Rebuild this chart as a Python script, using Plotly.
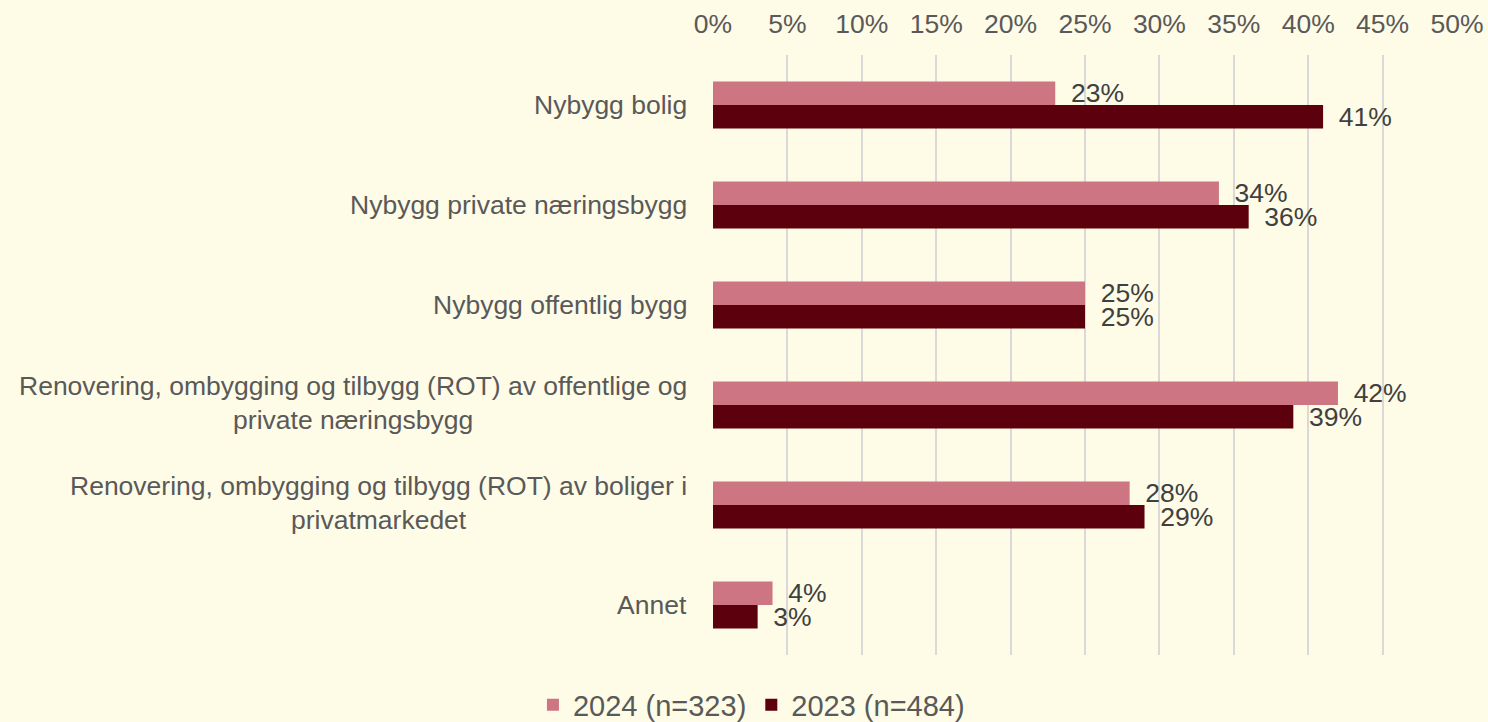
import plotly.graph_objects as go

categories = [
    "Nybygg bolig",
    "Nybygg private næringsbygg",
    "Nybygg offentlig bygg",
    "Renovering, ombygging og tilbygg (ROT) av offentlige og<br>private næringsbygg",
    "Renovering, ombygging og tilbygg (ROT) av boliger i<br>privatmarkedet",
    "Annet",
]
values_2024 = [23, 34, 25, 42, 28, 4]
values_2023 = [41, 36, 25, 39, 29, 3]
series_names = ["2024 (n=323)", "2023 (n=484)"]
tick_vals = [0, 5, 10, 15, 20, 25, 30, 35, 40, 45, 50]
tick_text = [f"{v}%" for v in tick_vals]

FONT = "Liberation Sans, Arial, sans-serif"
BG = "#FEFBE6"
C2024 = "#CD7582"
C2023 = "#5C000D"
FS = 26.5

fig = go.Figure()
for name, vals, col in [(series_names[0], values_2024, C2024), (series_names[1], values_2023, C2023)]:
    fig.add_trace(go.Bar(
        y=categories, x=vals, name=name, orientation="h",
        marker=dict(color=col, line=dict(width=0)),
        text=[f"{v}%" for v in vals],
        texttemplate=" \u2009%{text}",
        textposition="outside",
        constraintext="none",
        cliponaxis=False,
        textfont=dict(family=FONT, size=FS, color="#404040"),
    ))

for c in categories:
    multi = "<br>" in c
    fig.add_annotation(
        x=0, xref="paper", y=c, yref="y", text=c, showarrow=False,
        xanchor="right", yanchor="middle", align="center", xshift=-24,
        yshift=2 if multi else 0,
        font=dict(family=FONT, size=FS, color="#595959"),
    )

fig.update_layout(
    width=1488, height=722,
    margin=dict(l=713, r=31, t=55, b=67, autoexpand=False),
    paper_bgcolor=BG, plot_bgcolor=BG,
    barmode="group", bargap=0.53, bargroupgap=0,
    font=dict(family=FONT, size=FS, color="#595959"),
    showlegend=True,
    legend=dict(orientation="h", x=-0.242, xanchor="left", y=-0.083, yanchor="middle",
                font=dict(family=FONT, size=29, color="#595959"),
                bgcolor="rgba(0,0,0,0)", traceorder="normal", itemwidth=30),
    xaxis=dict(side="top", range=[0, 50], tickvals=tick_vals, ticktext=tick_text,
               showgrid=True, gridcolor="#D9D9D9", gridwidth=2, zeroline=False,
               showline=False, ticks="", ticklabelstandoff=16,
               tickfont=dict(family=FONT, size=FS, color="#595959"), fixedrange=True),
    yaxis=dict(autorange="reversed", showticklabels=False, showgrid=False,
               zeroline=False, showline=False, ticks="", fixedrange=True),
)

fig.write_html("out.html", config={"displayModeBar": False},
               post_script="document.body.style.margin='0';document.body.style.padding='0';")
